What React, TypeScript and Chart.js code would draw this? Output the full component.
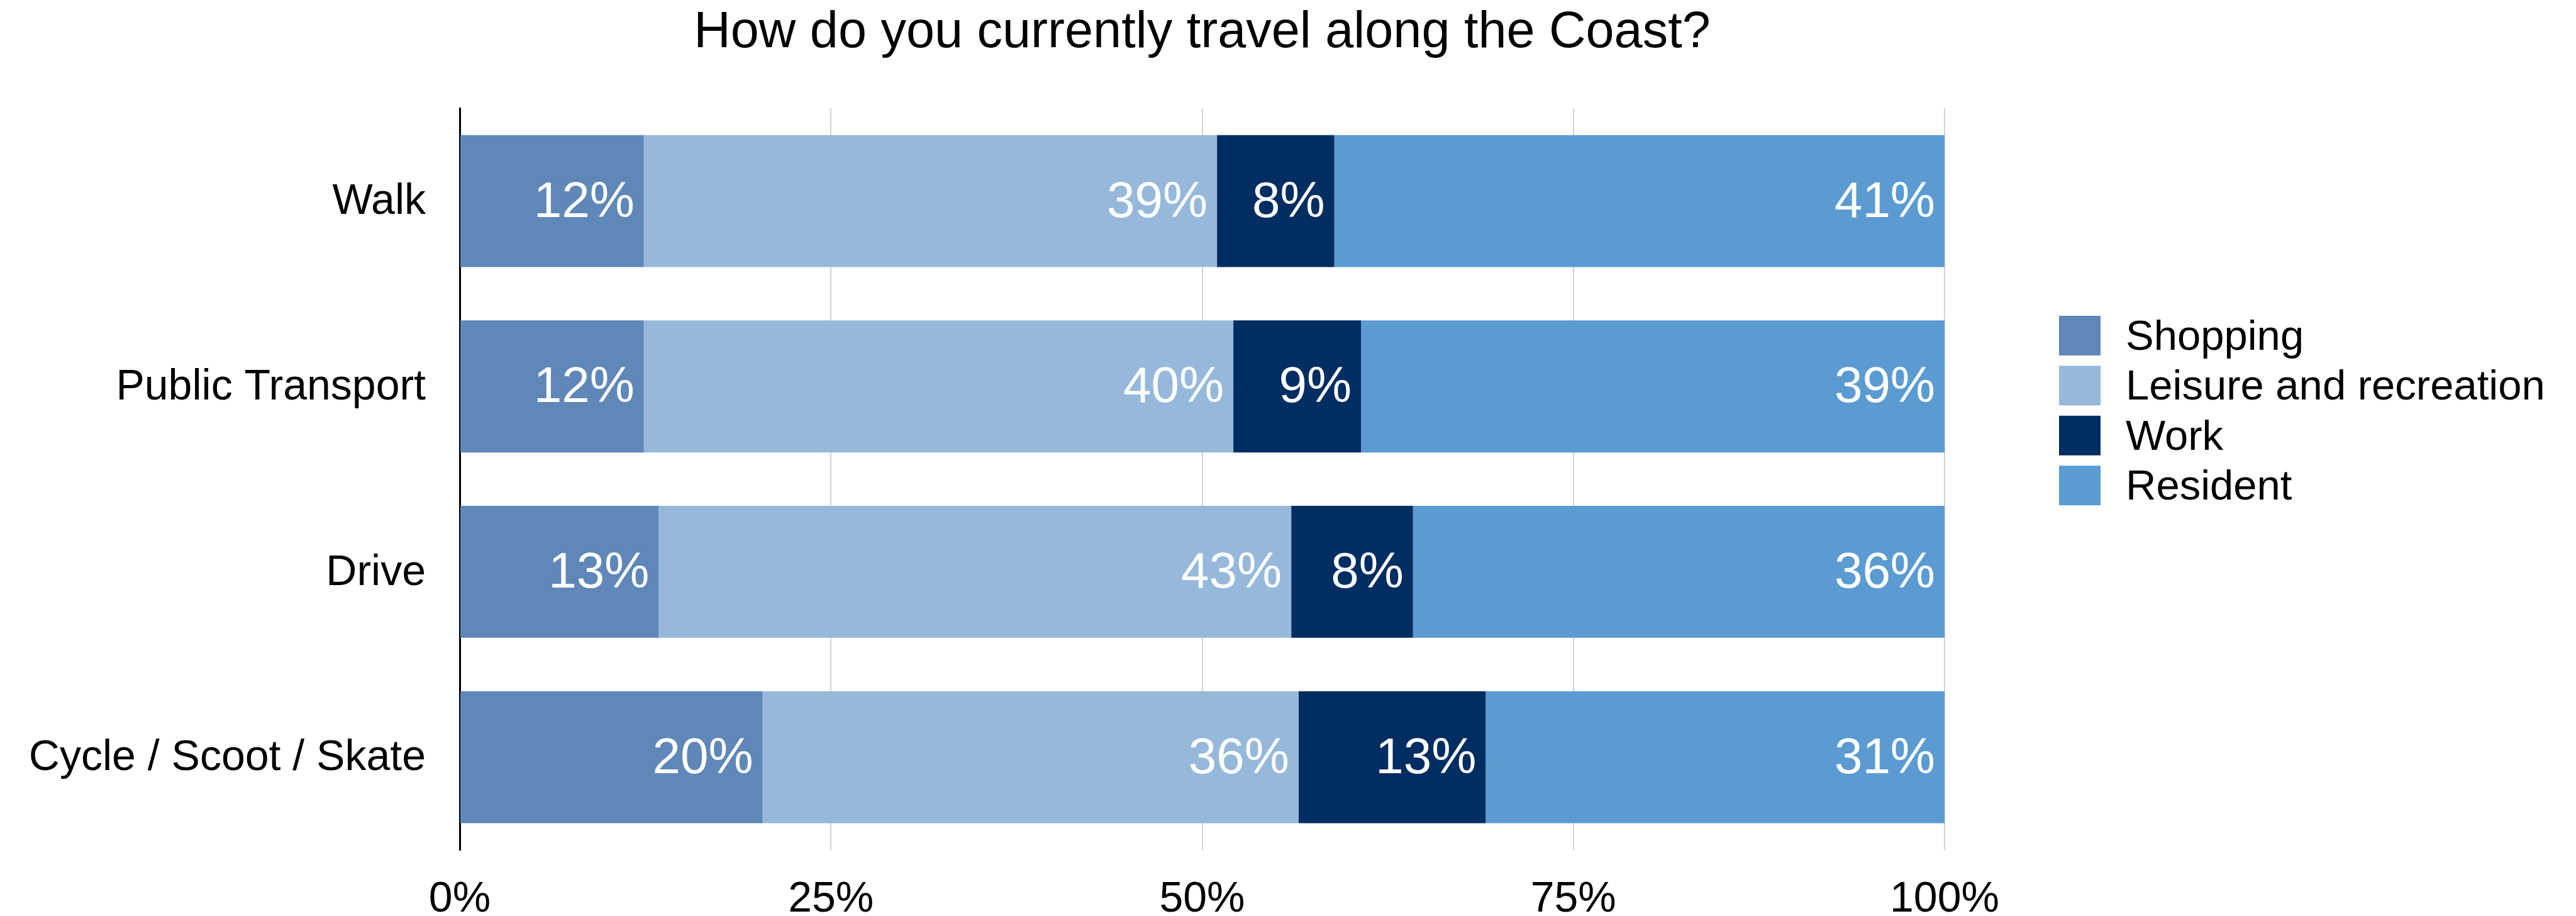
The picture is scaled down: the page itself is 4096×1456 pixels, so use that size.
import React, { useEffect, useRef } from "react";
import { Chart, registerables } from "chart.js";

Chart.register(...registerables);

const titleText = "How do you currently travel along the Coast?";
const categories = ["Walk", "Public Transport", "Drive", "Cycle / Scoot / Skate"];
const seriesNames = ["Shopping", "Leisure and recreation", "Work", "Resident"];
const shopping = [12.4, 12.4, 13.4, 20.4];
const leisure = [38.6, 39.7, 42.6, 36.1];
const work = [7.9, 8.6, 8.2, 12.6];
const resident = [41.1, 39.3, 35.8, 30.9];
const seriesColors = ["#5f87b8", "#96b9db", "#002d62", "#5b9bd2"];
const xTickValues = [0, 25, 50, 75, 100];

const FONT = "'Liberation Sans', Arial, Helvetica, sans-serif";
const W = 4096;
const H = 1456;

const dataLabelPlugin = {
  id: "segmentLabels",
  afterDatasetsDraw(chart: any) {
    const ctx = chart.ctx;
    ctx.save();
    ctx.font = `80px ${FONT}`;
    ctx.fillStyle = "#ffffff";
    ctx.textAlign = "right";
    ctx.textBaseline = "middle";
    chart.data.datasets.forEach((ds: any, i: number) => {
      const meta = chart.getDatasetMeta(i);
      meta.data.forEach((el: any, j: number) => {
        const v = ds.data[j];
        const p = el.getProps(["x", "y"], true);
        ctx.fillText(Math.round(v) + "%", p.x - 15, p.y + 3);
      });
    });
    ctx.restore();
  },
};

const legendPlugin = {
  id: "sideLegend",
  afterDraw(chart: any) {
    const ctx = chart.ctx;
    ctx.save();
    const boxX = 3274;
    const boxW = 66;
    const boxH = 63;
    const top0 = 502;
    const pitch = 79.4;
    const textX = 3380;
    ctx.font = `67px ${FONT}`;
    ctx.textAlign = "left";
    ctx.textBaseline = "middle";
    chart.data.datasets.forEach((ds: any, i: number) => {
      const top = top0 + i * pitch;
      ctx.fillStyle = ds.backgroundColor;
      ctx.fillRect(boxX, top, boxW, boxH);
      ctx.fillStyle = "#000000";
      ctx.fillText(ds.label, textX, top + boxH / 2 + 4);
    });
    ctx.restore();
  },
};

export default function App() {
  const canvasRef = useRef<HTMLCanvasElement | null>(null);

  useEffect(() => {
    document.body.style.margin = "0";
    document.body.style.overflow = "hidden";
    const canvas = canvasRef.current;
    if (!canvas) return;
    const seriesValues = [shopping, leisure, work, resident];
    const chart = new Chart(canvas, {
      type: "bar",
      data: {
        labels: categories,
        datasets: seriesNames.map((name, i) => ({
          label: name,
          data: seriesValues[i],
          backgroundColor: seriesColors[i],
          borderWidth: 0,
          categoryPercentage: 1,
          barPercentage: 0.712,
        })),
      },
      options: {
        indexAxis: "y",
        responsive: false,
        animation: false,
        devicePixelRatio: 1,
        layout: { padding: { left: 0, right: W - 3092, top: 0, bottom: 0 } },
        plugins: {
          legend: { display: false },
          tooltip: { enabled: false },
          title: {
            display: true,
            text: titleText,
            fullSize: false,
            color: "#000000",
            font: { size: 81, weight: "normal", family: FONT },
            padding: { top: 4, bottom: 71 },
          },
        },
        scales: {
          x: {
            type: "linear",
            stacked: true,
            min: 0,
            max: 100,
            afterBuildTicks: (scale: any) => {
              scale.ticks = xTickValues.map((v) => ({ value: v }));
            },
            afterFit: (scale: any) => {
              scale.height = 105;
            },
            grid: {
              color: (c: any) => (c.tick && c.tick.value === 0 ? "rgba(0,0,0,0)" : "#d3d3d3"),
              lineWidth: 2,
              drawTicks: false,
            },
            border: { display: false },
            ticks: {
              padding: 38,
              color: "#000000",
              font: { size: 68, family: FONT },
              callback: (v: any) => v + "%",
              maxRotation: 0,
            },
          },
          y: {
            type: "category",
            stacked: true,
            afterFit: (scale: any) => {
              scale.width = 731;
            },
            grid: { display: false, drawTicks: false },
            border: { display: true, color: "#000000", width: 3 },
            ticks: {
              padding: 54,
              labelOffset: 2,
              color: "#000000",
              font: { size: 68, family: FONT },
            },
          },
        },
      },
      plugins: [dataLabelPlugin, legendPlugin],
    } as any);
    return () => chart.destroy();
  }, []);

  return (
    <div style={{ width: W, height: H, background: "#ffffff" }}>
      <canvas ref={canvasRef} width={W} height={H} style={{ display: "block" }} />
    </div>
  );
}
